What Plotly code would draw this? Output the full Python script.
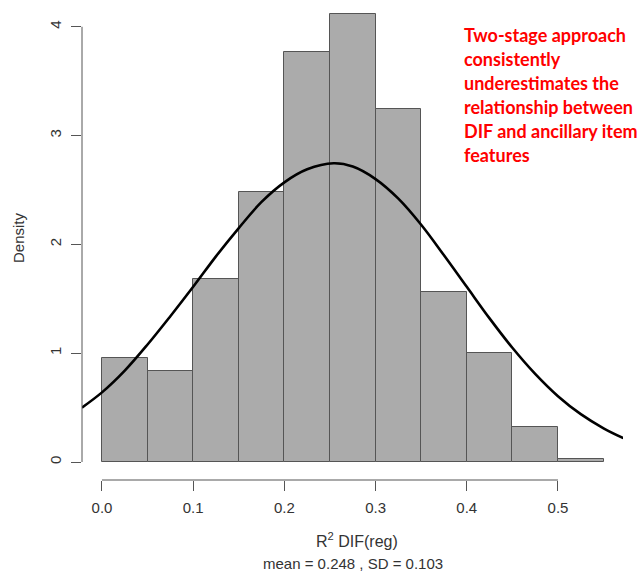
import plotly.graph_objects as go

# Histogram bins (left edges) and densities
bin_left = [0.00, 0.05, 0.10, 0.15, 0.20, 0.25, 0.30, 0.35, 0.40, 0.45, 0.50]
density = [0.96, 0.84, 1.68, 2.48, 3.77, 4.12, 3.24, 1.56, 1.00, 0.32, 0.03]
bin_width = 0.05

# Fitted curve points
curve_x = [-0.022, 0.0, 0.025, 0.05, 0.075, 0.1, 0.125, 0.15, 0.175, 0.2, 0.225, 0.254,
           0.275, 0.3, 0.325, 0.35, 0.375, 0.4, 0.425, 0.45, 0.475, 0.5, 0.525, 0.55, 0.5716]
curve_y = [0.50, 0.64, 0.84, 1.08, 1.34, 1.61, 1.89, 2.15, 2.39, 2.57, 2.69, 2.745,
           2.715, 2.60, 2.42, 2.18, 1.90, 1.61, 1.32, 1.05, 0.81, 0.605, 0.44, 0.31, 0.22]

x_ticks = [0.0, 0.1, 0.2, 0.3, 0.4, 0.5]
x_ticktext = ["0.0", "0.1", "0.2", "0.3", "0.4", "0.5"]
y_ticks = [0, 1, 2, 3, 4]

note_lines = ["Two-stage approach", "consistently", "underestimates the",
              "relationship between", "DIF and ancillary item", "features"]

fig = go.Figure()
fig.add_trace(go.Bar(
    x=[b + bin_width / 2 for b in bin_left], y=density, width=bin_width,
    marker=dict(color="#ababab", line=dict(color="#555555", width=1)),
    showlegend=False, hoverinfo="skip"))
fig.add_trace(go.Scatter(
    x=curve_x, y=curve_y, mode="lines", line=dict(color="black", width=2.6, shape="spline"),
    showlegend=False, hoverinfo="skip"))

W, H = 640, 573
ml, mr, mt, mb = 82, 17, 0, 93
pw, ph = W - ml - mr, H - mt - mb

fig.update_layout(
    width=W, height=H, margin=dict(l=ml, r=mr, t=mt, b=mb, autoexpand=False),
    plot_bgcolor="white", paper_bgcolor="white",
    font=dict(family="Liberation Sans, Arial, sans-serif", color="#333333", size=15),
    bargap=0,
    xaxis=dict(range=[-0.0219, 0.5713], showgrid=False, zeroline=False, showline=False,
               tickvals=x_ticks, ticktext=x_ticktext, ticks="outside", ticklen=10,
               ticklabelstandoff=4, automargin=False,
               tickcolor="#555555", tickwidth=1, tickfont=dict(size=15, color="#333333")),
    yaxis=dict(range=[-0.1654, 4.246], showgrid=False, zeroline=False, showline=False,
               tickvals=y_ticks, ticks="outside", ticklen=10, tickangle=-90,
               ticklabelstandoff=4, automargin=False,
               tickcolor="#555555", tickwidth=1, tickfont=dict(size=15, color="#333333")),
)

# R-style axis lines spanning only the tick range
fig.add_shape(type="line", xref="x", yref="paper", x0=x_ticks[0], x1=x_ticks[-1], y0=0, y1=0,
              line=dict(color="#555555", width=1))
fig.add_shape(type="line", xref="paper", yref="y", x0=0, x1=0, y0=y_ticks[0], y1=y_ticks[-1],
              line=dict(color="#555555", width=1))

def px_x(p):
    return (p - ml) / pw

def px_y(p):
    return 1 - (p - mt) / ph

fig.add_annotation(text="Density", xref="paper", yref="paper", x=px_x(18), y=px_y(238),
                   textangle=-90, showarrow=False, font=dict(size=15, color="#333333"),
                   xanchor="center", yanchor="middle")
fig.add_annotation(text="R<sup>2</sup> DIF(reg)", xref="paper", yref="paper", x=px_x(357), y=px_y(540),
                   showarrow=False, font=dict(size=16, color="#333333"), xanchor="center", yanchor="middle")
fig.add_annotation(text="mean = 0.248 , SD = 0.103", xref="paper", yref="paper", x=px_x(353), y=px_y(563),
                   showarrow=False, font=dict(size=15, color="#333333"), xanchor="center", yanchor="middle")

for i, line in enumerate(note_lines):
    fig.add_annotation(text="<b>" + line + "</b>", xref="paper", yref="paper",
                       x=px_x(462), y=px_y(35 + 24 * i), showarrow=False,
                       xanchor="left", yanchor="middle", align="left",
                       font=dict(family="Lato, sans-serif", size=18, color="#ff0000"))

fig.write_html("out.html", post_script="document.body.style.margin='0';",
               config={"displayModeBar": False})
